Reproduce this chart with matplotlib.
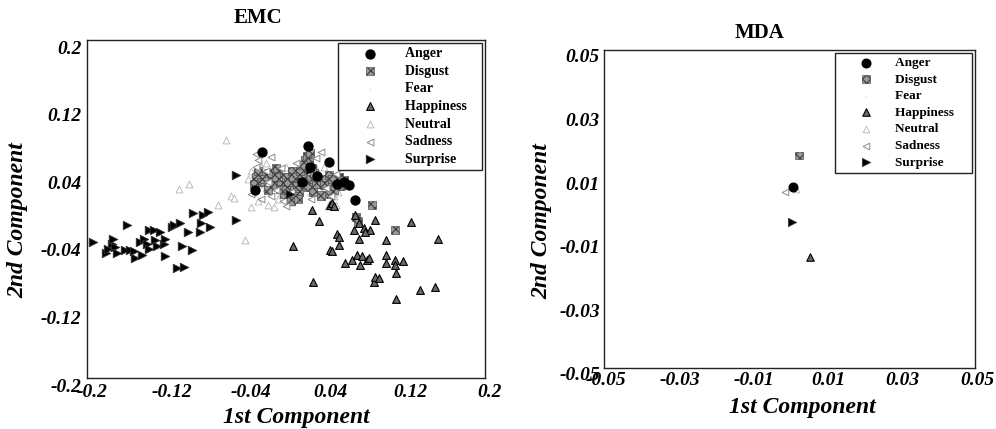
import matplotlib
matplotlib.use("Agg")
import matplotlib.pyplot as plt
import matplotlib.transforms as mtransforms

# ---- EMC projection (1st, 2nd component) ----
emc_anger_x = [-0.024, 0.022, 0.043, 0.031, 0.016, 0.051, 0.058, 0.063, 0.069, -0.031, 0.024]
emc_anger_y = [0.068, 0.074, 0.056, 0.039, 0.032, 0.030, 0.032, 0.028, 0.011, 0.023, 0.050]

emc_disgust_x = [-0.030, -0.025, -0.020, -0.015, -0.012, -0.008, -0.005, 0.000, 0.003, 0.006,
                 0.010, 0.013, 0.016, 0.019, 0.021, 0.023, 0.025, 0.028, 0.030, -0.018,
                 -0.002, 0.008, 0.040, 0.045, 0.050, 0.053, 0.055, 0.048, 0.043, 0.086,
                 0.070, 0.110, 0.072, 0.020, -0.010, 0.005, 0.035,
                 -0.028, -0.022, -0.017, -0.010, -0.006, 0.002, 0.007, 0.011, 0.014, 0.018,
                 0.022, 0.026, 0.031, 0.024, 0.017, 0.038, 0.046, 0.052, 0.058, 0.044,
                 -0.032, 0.000, 0.012, 0.027]
emc_disgust_y = [0.038, 0.032, 0.040, 0.035, 0.028, 0.042, 0.030, 0.038, 0.025, 0.045,
                 0.033, 0.020, 0.040, 0.058, 0.063, 0.055, 0.035, 0.042, 0.030, 0.022,
                 0.018, 0.015, 0.035, 0.030, 0.033, 0.038, 0.027, 0.022, 0.040, 0.005,
                 -0.009, -0.025, -0.014, 0.048, 0.048, 0.010, 0.016,
                 0.045, 0.036, 0.043, 0.038, 0.024, 0.032, 0.038, 0.027, 0.045, 0.030,
                 0.026, 0.048, 0.038, 0.066, 0.052, 0.028, 0.036, 0.030, 0.034, 0.018,
                 0.030, 0.022, 0.012, 0.020]

emc_fear_x = []
emc_fear_y = []

emc_happy_x = [0.026, 0.033, 0.044, 0.007, 0.027, 0.051, 0.053, 0.044, 0.046, 0.053,
               0.059, 0.066, 0.069, 0.073, 0.073, 0.071, 0.074, 0.076, 0.078, 0.081,
               0.083, 0.084, 0.088, 0.089, 0.089, 0.093, 0.100, 0.101, 0.101, 0.110,
               0.110, 0.111, 0.111, 0.118, 0.126, 0.135, 0.150, 0.153, 0.068, 0.079,
               0.046, 0.048]
emc_happy_y = [-0.001, -0.014, 0.005, -0.044, -0.086, -0.029, -0.033, -0.049, -0.050, -0.043,
               -0.064, -0.060, -0.007, -0.017, -0.035, -0.054, -0.066, -0.056, -0.023, -0.060,
               -0.058, -0.025, -0.086, -0.080, -0.013, -0.082, -0.054, -0.037, -0.064, -0.060,
               -0.066, -0.076, -0.106, -0.062, -0.015, -0.096, -0.092, -0.035, -0.025, -0.027,
               0.007, 0.003]

emc_neutral_x = [-0.060, -0.108, -0.097, -0.068, -0.055, -0.052, -0.041, -0.035, -0.030, -0.025,
                 -0.020, -0.015, -0.010, -0.005, 0.000, 0.005, 0.010, 0.015, 0.020, 0.025,
                 0.030, 0.035, 0.040, 0.045, 0.050, -0.028, -0.018, -0.008, 0.002, 0.012,
                 -0.033, 0.038, 0.042,
                 -0.038, -0.032, -0.026, -0.022, -0.016, -0.012, -0.006, -0.002, 0.004, 0.008,
                 0.013, 0.018, 0.022, 0.028, 0.033, 0.036, 0.044, 0.048, 0.052, -0.035,
                 -0.012, 0.006, 0.027, -0.020]
emc_neutral_y = [0.082, 0.024, 0.030, 0.005, 0.015, 0.013, -0.037, 0.045, 0.030, 0.050,
                 0.025, 0.045, 0.035, 0.020, 0.050, 0.030, 0.040, 0.025, 0.035, 0.020,
                 0.048, 0.028, 0.020, 0.010, 0.005, 0.010, 0.005, 0.012, 0.040, 0.050,
                 0.020, 0.050, 0.004,
                 0.035, 0.042, 0.038, 0.030, 0.036, 0.028, 0.040, 0.032, 0.044, 0.022,
                 0.035, 0.044, 0.040, 0.030, 0.038, 0.020, 0.028, 0.015, 0.020, 0.002,
                 0.002, 0.008, 0.052, 0.055]

emc_sad_x = [-0.030, -0.015, -0.030, -0.020, -0.005, -0.018, 0.035, 0.050, -0.003, -0.015,
             -0.025, -0.010, 0.005, 0.015, 0.025, 0.040, 0.045, -0.035, 0.000, 0.030,
             -0.028, 0.010]
emc_sad_y = [0.065, 0.062, 0.050, 0.045, 0.048, 0.032, 0.068, 0.042, 0.010, 0.015,
             0.012, 0.022, 0.020, 0.030, 0.012, 0.025, 0.015, 0.018, 0.004, 0.060,
             0.058, 0.055]

emc_surprise_x = [-0.194, -0.181, -0.175, -0.174, -0.172, -0.179, -0.170, -0.162, -0.160, -0.157,
                  -0.153, -0.152, -0.145, -0.147, -0.143, -0.140, -0.138, -0.138, -0.133, -0.132,
                  -0.130, -0.127, -0.123, -0.122, -0.122, -0.115, -0.113, -0.107, -0.105, -0.098,
                  -0.094, -0.093, -0.086, -0.085, -0.083, -0.078, -0.076, -0.110, -0.103, -0.050,
                  -0.050, 0.024, 0.016, 0.004]
emc_surprise_y = [-0.039, -0.052, -0.041, -0.035, -0.045, -0.047, -0.052, -0.049, -0.019, -0.049,
                  -0.050, -0.058, -0.054, -0.039, -0.035, -0.041, -0.025, -0.047, -0.025, -0.037,
                  -0.044, -0.027, -0.041, -0.035, -0.056, -0.021, -0.019, -0.017, -0.044, -0.027,
                  -0.048, -0.005, -0.027, -0.017, -0.007, -0.004, -0.021, -0.070, -0.069, 0.040,
                  -0.013, 0.046, 0.032, 0.018]

# ---- MDA projection ----
mda_anger_x, mda_anger_y = [0.0009], [0.0068]
mda_disgust_x, mda_disgust_y = [0.0026], [0.0168]
mda_fear_x, mda_fear_y = [], []
mda_happy_x, mda_happy_y = [0.0055], [-0.0152]
mda_neutral_x, mda_neutral_y = [0.0018], [0.0062]
mda_sad_x, mda_sad_y = [-0.0012], [0.0053]
mda_surprise_x, mda_surprise_y = [0.0008], [-0.0041]

emc_ticks = [-0.2, -0.12, -0.04, 0.04, 0.12, 0.2]
emc_ticklabels = ["-0.2", "-0.12", "-0.04", "0.04", "0.12", "0.2"]
mda_ticks = [-0.05, -0.03, -0.01, 0.01, 0.03, 0.05]
mda_ticklabels = ["-0.05", "-0.03", "-0.01", "0.01", "0.03", "0.05"]

labels = ["Anger", "Disgust", "Fear", "Happiness", "Neutral", "Sadness", "Surprise"]

SERIF = "Liberation Serif"
plt.rcParams["hatch.linewidth"] = 0.8


def draw_points(ax, data, scale):
    # marker style per emotion, in legend order
    styles = [
        dict(marker="o", s=55, facecolor="black", edgecolor="black", zorder=6),
        dict(marker="s", s=45, facecolor="#9a9a9a", edgecolor="#3a3a3a", hatch="xxxx", linewidths=0.4, zorder=3),
        dict(marker=".", s=4, facecolor="#f0f0f0", edgecolor="#f0f0f0", zorder=2),
        dict(marker="^", s=42, facecolor="#6a6a6a", edgecolor="black", linewidths=0.8, zorder=4),
        dict(marker="^", s=32, facecolor="white", edgecolor="#bdbdbd", linewidths=0.7, zorder=2),
        dict(marker="<", s=32, facecolor="white", edgecolor="#8a8a8a", linewidths=0.7, zorder=3),
        dict(marker=">", s=50, facecolor="black", edgecolor="#333333", linewidths=0.6, zorder=5),
    ]
    for (xs, ys), lab, st in zip(data, labels, styles):
        st = dict(st)
        st["s"] = st["s"] * scale
        ax.scatter(xs, ys, label=lab, **st)


def style_axes(ax, ticks, ticklabels, fig, xoff, yoff, pad):
    lim = (ticks[0], ticks[-1])
    ax.set_xlim(lim)
    ax.set_ylim(lim)
    ax.set_xticks(ticks)
    ax.set_yticks(ticks)
    ax.set_xticklabels(ticklabels)
    ax.set_yticklabels(ticklabels)
    ax.tick_params(length=0, pad=pad)
    for lab in ax.get_xticklabels() + ax.get_yticklabels():
        lab.set_fontfamily(SERIF)
        lab.set_fontweight("bold")
        lab.set_fontstyle("italic")
        lab.set_fontsize(14)
    for lab in ax.get_xticklabels():
        lab.set_transform(lab.get_transform() + mtransforms.ScaledTranslation(xoff / 100, 0, fig.dpi_scale_trans))
    for lab in ax.get_yticklabels():
        lab.set_transform(lab.get_transform() + mtransforms.ScaledTranslation(0, -yoff / 100, fig.dpi_scale_trans))
    for sp in ax.spines.values():
        sp.set_linewidth(1.0)
        sp.set_color("#222222")


W, H = 996, 429
fig = plt.figure(figsize=(W / 100, H / 100), dpi=100)

ax1 = fig.add_axes([87 / W, 1 - 378 / H, 398 / W, 338 / H])
ax2 = fig.add_axes([604 / W, 1 - 368 / H, 371 / W, 318 / H])

emc_data = [(emc_anger_x, emc_anger_y), (emc_disgust_x, emc_disgust_y), (emc_fear_x, emc_fear_y),
            (emc_happy_x, emc_happy_y), (emc_neutral_x, emc_neutral_y), (emc_sad_x, emc_sad_y),
            (emc_surprise_x, emc_surprise_y)]
mda_data = [(mda_anger_x, mda_anger_y), (mda_disgust_x, mda_disgust_y), (mda_fear_x, mda_fear_y),
            (mda_happy_x, mda_happy_y), (mda_neutral_x, mda_neutral_y), (mda_sad_x, mda_sad_y),
            (mda_surprise_x, mda_surprise_y)]

draw_points(ax1, emc_data, 0.75)
draw_points(ax2, mda_data, 0.7)

style_axes(ax1, emc_ticks, emc_ticklabels, fig, 5, 7, 4)
style_axes(ax2, mda_ticks, mda_ticklabels, fig, 2, 6, 3)

leg_font = dict(family=SERIF, weight="bold")
# (axes, font size, handle length, text pad, trailing spaces to widen the box)
for ax, fs, hl, tp, extra in ((ax1, 10, 4.0, 0.5, 3), (ax2, 9.5, 4.2, 0.1, 4)):
    leg = ax.legend(loc="upper right", bbox_to_anchor=(0.995, 0.995), prop=dict(leg_font, size=fs),
                    fancybox=False, framealpha=1, edgecolor="#222222", scatterpoints=1,
                    handlelength=hl, handletextpad=tp, labelspacing=0.33, borderpad=0.3,
                    borderaxespad=0.1)
    for t in leg.get_texts():
        t.set_text(t.get_text() + " " * extra)
    leg.get_frame().set_linewidth(1.0)
    leg.set_zorder(10)

lab_font = dict(family=SERIF, weight="bold", style="italic", size=17)
fig.text(18 / W, 1 - 220 / H, "2nd Component", rotation=90, ha="center", va="center", **lab_font)
fig.text(296 / W, 1 - 418 / H, "1st Component", ha="center", va="center", **lab_font)
fig.text(542 / W, 1 - 221 / H, "2nd Component", rotation=90, ha="center", va="center", **lab_font)
fig.text(802 / W, 1 - 408 / H, "1st Component", ha="center", va="center", **lab_font)

title_font = dict(family=SERIF, weight="bold", size=15)
fig.text(258 / W, 1 - 18 / H, "EMC", ha="center", va="center", **title_font)
fig.text(760 / W, 1 - 33 / H, "MDA", ha="center", va="center", **title_font)

fig.savefig("out.png", dpi=100)
